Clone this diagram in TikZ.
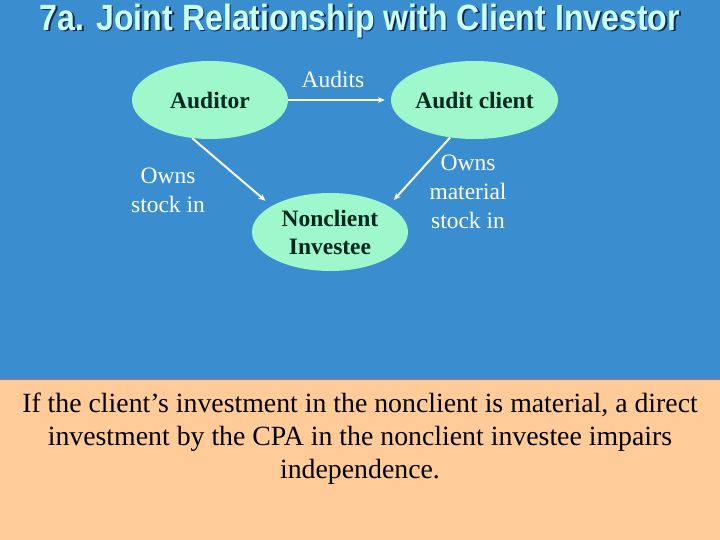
\documentclass[tikz,border=0pt]{standalone}
\usepackage{fontspec}
\setmainfont{Liberation Serif}
\newfontfamily\titlefont[FakeStretch=0.88]{Liberation Sans}
\usetikzlibrary{shapes.geometric,arrows.meta}
\definecolor{slideblue}{RGB}{58,142,208}
\definecolor{peach}{RGB}{255,204,153}
\definecolor{mint}{RGB}{158,248,204}
\definecolor{titlecyan}{RGB}{204,255,255}
\definecolor{shadownavy}{RGB}{20,40,70}
\definecolor{nodetext}{RGB}{0,40,30}
\tikzset{
  party/.style={ellipse, fill=mint, minimum width=156pt, minimum height=78pt,
    inner sep=0pt, align=center, text=nodetext,
    font=\fontsize{23.5}{28}\selectfont\bfseries},
  rel/.style={text=white, align=center, font=\fontsize{23.5}{29}\selectfont},
  arr/.style={-{Stealth[length=7pt,width=6pt]}, line width=2pt, draw=white!95!gray},
  heading/.style={font=\titlefont\fontsize{36.5}{40}\selectfont\bfseries}
}
\begin{document}
\begin{tikzpicture}[x=1pt,y=-1pt]
  \useasboundingbox (0,0) rectangle (720,540);
  % Background
  \fill[slideblue] (0,0) rectangle (720,380);
  \fill[peach] (0,380) rectangle (720,540);
  \draw[line width=2pt, gray!70!slideblue] (0,379) -- (720,379);

  % Title (with shadow)
  \node[heading, text=shadownavy] (titleshadow) at (361.5,22.5) {7a. Joint Relationship with Client Investor};
  \node[heading, text=titlecyan] (title) at (360,21) {7a. Joint Relationship with Client Investor};

  % Parties
  \node[party] (auditor) at (210,100) {Auditor};
  \node[party] (client) at (474.5,100) {Audit client};
  \node[party] (nonclient) at (330,232) {Nonclient\\Investee};

  % Relations
  \draw[arr, shorten >=6pt] (auditor) -- (client);
  \draw[arr, shorten >=8pt] (auditor.-115) -- (nonclient.156);
  \draw[arr, shorten >=8pt] (client.-123) -- (nonclient.24);

  % Labels
  \node[rel] (audits) at (333,79) {Audits};
  \node[rel] (ownsstock) at (168,190) {Owns\\stock in};
  \node[rel] (ownsmaterial) at (468,192) {Owns\\material\\stock in};

  % Note
  \node[font=\fontsize{27.8}{33}\selectfont, align=center] (note) at (360,439)
    {If the client’s investment in the nonclient is material, a direct\\
     investment by the CPA in the nonclient investee impairs\\
     independence.};
\end{tikzpicture}
\end{document}
